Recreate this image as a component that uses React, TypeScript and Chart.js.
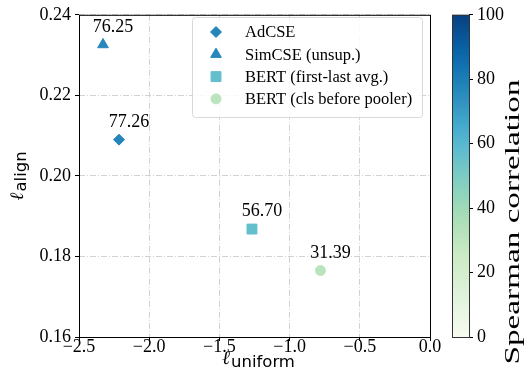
import React, { useEffect, useRef } from 'react';
import { Chart, registerables } from 'chart.js';

Chart.register(...registerables);

// ---- data ----
const methods = ['AdCSE', 'SimCSE (unsup.)', 'BERT (first-last avg.)', 'BERT (cls before pooler)'];
const uniformValues = [-2.215, -2.329, -1.268, -0.78];
const alignValues = [0.209, 0.2326, 0.1868, 0.1765];
const spearmanValues = [77.26, 76.25, 56.7, 31.39];
const spearmanLabels = ['77.26', '76.25', '56.70', '31.39'];
const markerShapes = ['rectRot', 'triangle', 'rect', 'circle'];
const markerRadii = [5.5, 6.2, 7, 5];
const colorbarTicks = [0, 20, 40, 60, 80, 100];

const GNBU = ['#f7fcf0', '#e0f3db', '#ccebc5', '#a8ddb5', '#7bccc4', '#4eb3d3', '#2b8cbe', '#0868ac', '#084081'];

function hexToRgb(h: string) {
  return [parseInt(h.slice(1, 3), 16), parseInt(h.slice(3, 5), 16), parseInt(h.slice(5, 7), 16)];
}
function gnbu(t: number) {
  const x = Math.max(0, Math.min(1, t)) * (GNBU.length - 1);
  const i = Math.min(GNBU.length - 2, Math.floor(x));
  const f = x - i;
  const a = hexToRgb(GNBU[i]);
  const b = hexToRgb(GNBU[i + 1]);
  const c = a.map((v, k) => Math.round(v + (b[k] - v) * f));
  return `rgb(${c[0]},${c[1]},${c[2]})`;
}

const SERIF = '"Liberation Serif", "Times New Roman", serif';
const W = 529;
const H = 392;
const AREA = { left: 79, right: 430, top: 9, bottom: 337 };
const CBAR = { left: 452, right: 469 };
const DASH = [6, 2, 1, 2];

function fmtMinus(v: number, d: number) {
  const s = Math.abs(v).toFixed(d);
  return v < -1e-9 ? '\u2212' + s : s;
}

function measureMath(ctx: CanvasRenderingContext2D, sub: string) {
  ctx.font = 'italic 19px "DejaVu Serif"';
  const w1 = ctx.measureText('\u2113').width;
  ctx.font = '16.5px "DejaVu Sans"';
  const w2 = ctx.measureText(sub).width;
  return { w1, w2, total: w1 + 1 + w2 };
}

function drawShape(ctx: CanvasRenderingContext2D, style: string, r: number, x: number, y: number, color: string) {
  ctx.save();
  ctx.fillStyle = color;
  ctx.strokeStyle = color;
  ctx.lineWidth = 1;
  ctx.beginPath();
  if (style === 'circle') {
    ctx.arc(x, y, r, 0, Math.PI * 2);
  } else if (style === 'rect') {
    const s = r * Math.SQRT1_2;
    ctx.rect(x - s, y - s, 2 * s, 2 * s);
  } else if (style === 'rectRot') {
    ctx.moveTo(x, y - r);
    ctx.lineTo(x + r, y);
    ctx.lineTo(x, y + r);
    ctx.lineTo(x - r, y);
  } else if (style === 'triangle') {
    for (let k = 0; k < 3; k++) {
      const ang = -Math.PI / 2 + (k * 2 * Math.PI) / 3;
      const px = x + Math.cos(ang) * r;
      const py = y + Math.sin(ang) * r;
      if (k === 0) ctx.moveTo(px, py);
      else ctx.lineTo(px, py);
    }
  }
  ctx.closePath();
  ctx.fill();
  ctx.stroke();
  ctx.restore();
}

export default function App() {
  const mainRef = useRef<HTMLCanvasElement>(null);
  const cbRef = useRef<HTMLCanvasElement>(null);

  useEffect(() => {
    const colors = spearmanValues.map((v) => gnbu(v / 100));

    const overlay = {
      id: 'overlay',
      afterDatasetsDraw(chart: any) {
        const ctx = chart.ctx as CanvasRenderingContext2D;
        const xs = chart.scales.x;
        const ys = chart.scales.y;
        ctx.save();
        // value annotations
        ctx.fillStyle = '#000';
        ctx.font = `18px ${SERIF}`;
        ctx.textAlign = 'center';
        ctx.textBaseline = 'alphabetic';
        for (let i = 0; i < methods.length; i++) {
          const px = xs.getPixelForValue(uniformValues[i]);
          const py = ys.getPixelForValue(alignValues[i]);
          ctx.fillText(spearmanLabels[i], px + 10, py - 13);
        }
        // frame
        const a = chart.chartArea;
        ctx.strokeStyle = '#000';
        ctx.lineWidth = 1;
        ctx.strokeRect(a.left + 0.5, a.top + 0.5, a.right - a.left, a.bottom - a.top);

        // legend
        const lx = 192, ly = 17, lw = 230, lh = 100;
        ctx.beginPath();
        (ctx as any).roundRect(lx + 0.5, ly + 0.5, lw, lh, 3);
        ctx.fillStyle = 'rgba(255,255,255,0.85)';
        ctx.fill();
        ctx.strokeStyle = '#d8d8d8';
        ctx.lineWidth = 1;
        ctx.stroke();
        ctx.font = `16.5px ${SERIF}`;
        ctx.textAlign = 'left';
        ctx.textBaseline = 'middle';
        for (let i = 0; i < methods.length; i++) {
          const ry = 32 + i * 22.3;
          drawShape(ctx, markerShapes[i], markerRadii[i], 216, ry, colors[i]);
          ctx.fillStyle = '#000';
          ctx.fillText(methods[i], 245, ry + 1);
        }

        // x title
        {
          const m = measureMath(ctx, 'uniform');
          const cx = (a.left + a.right) / 2 + 4;
          const sx = cx - m.total / 2;
          ctx.textBaseline = 'alphabetic';
          ctx.textAlign = 'left';
          ctx.fillStyle = '#000';
          ctx.font = 'italic 19px "DejaVu Serif"';
          ctx.fillText('\u2113', sx, 364);
          ctx.font = '16.5px "DejaVu Sans"';
          ctx.fillText('uniform', sx + m.w1 + 1, 367);
        }
        // y title
        {
          const m = measureMath(ctx, 'align');
          const cy = (a.top + a.bottom) / 2;
          ctx.save();
          ctx.translate(23, cy + m.total / 2);
          ctx.rotate(-Math.PI / 2);
          ctx.textBaseline = 'alphabetic';
          ctx.textAlign = 'left';
          ctx.fillStyle = '#000';
          ctx.font = 'italic 19px "DejaVu Serif"';
          ctx.fillText('\u2113', 0, 0);
          ctx.font = '16.5px "DejaVu Sans"';
          ctx.fillText('align', m.w1 + 1, 3);
          ctx.restore();
        }
        ctx.restore();
      },
    };

    const gridCommon = {
      color: '#d2d2d2',
      lineWidth: 1,
      tickColor: '#000',
      tickLength: 4,
      tickWidth: 1,
      tickBorderDash: [],
    };

    const main = new Chart(mainRef.current!, {
      type: 'scatter',
      data: {
        datasets: methods.map((m, i) => ({
          label: m,
          data: [{ x: uniformValues[i], y: alignValues[i] }],
          pointStyle: markerShapes[i] as any,
          pointRadius: markerRadii[i],
          pointHoverRadius: markerRadii[i],
          backgroundColor: colors[i],
          borderColor: colors[i],
          borderWidth: 1,
        })),
      },
      options: {
        animation: false,
        responsive: false,
        devicePixelRatio: 1,
        events: [],
        layout: { padding: { left: 0, right: W - AREA.right, top: AREA.top, bottom: 0 } },
        plugins: { legend: { display: false }, tooltip: { enabled: false }, title: { display: false } },
        scales: {
          x: {
            type: 'linear',
            min: -2.5,
            max: 0,
            afterFit: (s: any) => { s.height = H - AREA.bottom; },
            ticks: {
              stepSize: 0.5,
              padding: -3,
              color: '#000',
              font: { family: SERIF, size: 18, lineHeight: 1 },
              callback: (v: any) => fmtMinus(Number(v), 1),
              maxRotation: 0,
            },
            grid: gridCommon as any,
            border: { display: false, dash: DASH },
          },
          y: {
            type: 'linear',
            min: 0.16,
            max: 0.24,
            afterFit: (s: any) => { s.width = AREA.left; },
            ticks: {
              stepSize: 0.02,
              padding: 4,
              color: '#000',
              font: { family: SERIF, size: 18 },
              callback: (v: any) => Number(v).toFixed(2),
            },
            grid: gridCommon as any,
            border: { display: false, dash: DASH },
          },
        },
      },
      plugins: [overlay],
    });

    const cbPlugin = {
      id: 'cbar',
      beforeDatasetsDraw(chart: any) {
        const ctx = chart.ctx as CanvasRenderingContext2D;
        const a = chart.chartArea;
        const ys = chart.scales.y;
        const g = ctx.createLinearGradient(0, ys.getPixelForValue(0), 0, ys.getPixelForValue(100));
        for (let i = 0; i <= 20; i++) g.addColorStop(i / 20, gnbu(i / 20));
        ctx.save();
        ctx.fillStyle = g;
        ctx.fillRect(a.left, a.top, a.right - a.left, a.bottom - a.top);
        ctx.strokeStyle = '#333';
        ctx.lineWidth = 1;
        ctx.strokeRect(a.left + 0.5, a.top + 0.5, a.right - a.left, a.bottom - a.top);
        ctx.restore();
      },
      afterDraw(chart: any) {
        const ctx = chart.ctx as CanvasRenderingContext2D;
        const label = 'Spearman correlation';
        ctx.save();
        ctx.font = `20px ${SERIF}`;
        const tw = ctx.measureText(label).width;
        const span = 285;
        ctx.translate(519, 222);
        ctx.rotate(-Math.PI / 2);
        ctx.scale(span / tw, 1);
        ctx.fillStyle = '#000';
        ctx.textAlign = 'center';
        ctx.textBaseline = 'alphabetic';
        ctx.fillText(label, 0, 0);
        ctx.restore();
      },
    };

    const cb = new Chart(cbRef.current!, {
      type: 'scatter',
      data: { datasets: [{ data: [] }] },
      options: {
        animation: false,
        responsive: false,
        devicePixelRatio: 1,
        events: [],
        layout: { padding: { left: CBAR.left, right: 0, top: AREA.top, bottom: H - AREA.bottom } },
        plugins: { legend: { display: false }, tooltip: { enabled: false } },
        scales: {
          x: { type: 'linear', display: false, min: 0, max: 1 },
          y: {
            type: 'linear',
            position: 'right',
            min: colorbarTicks[0],
            max: colorbarTicks[colorbarTicks.length - 1],
            afterFit: (s: any) => { s.width = W - CBAR.right; },
            afterBuildTicks: (s: any) => { s.ticks = colorbarTicks.map((v) => ({ value: v })); },
            ticks: {
              padding: 4,
              color: '#000',
              font: { family: SERIF, size: 18 },
              callback: (v: any) => String(v),
            },
            grid: { drawOnChartArea: false, drawTicks: true, tickLength: 4, color: '#000', tickColor: '#000' },
            border: { display: false },
          },
        },
      },
      plugins: [cbPlugin],
    });

    return () => {
      main.destroy();
      cb.destroy();
    };
  }, []);

  return (
    <div style={{ position: 'absolute', left: 0, top: 0, width: W, height: H, background: '#fff' }}>
      <canvas ref={mainRef} width={W} height={H} style={{ position: 'absolute', left: 0, top: 0 }} />
      <canvas ref={cbRef} width={W} height={H} style={{ position: 'absolute', left: 0, top: 0, pointerEvents: 'none' }} />
    </div>
  );
}
